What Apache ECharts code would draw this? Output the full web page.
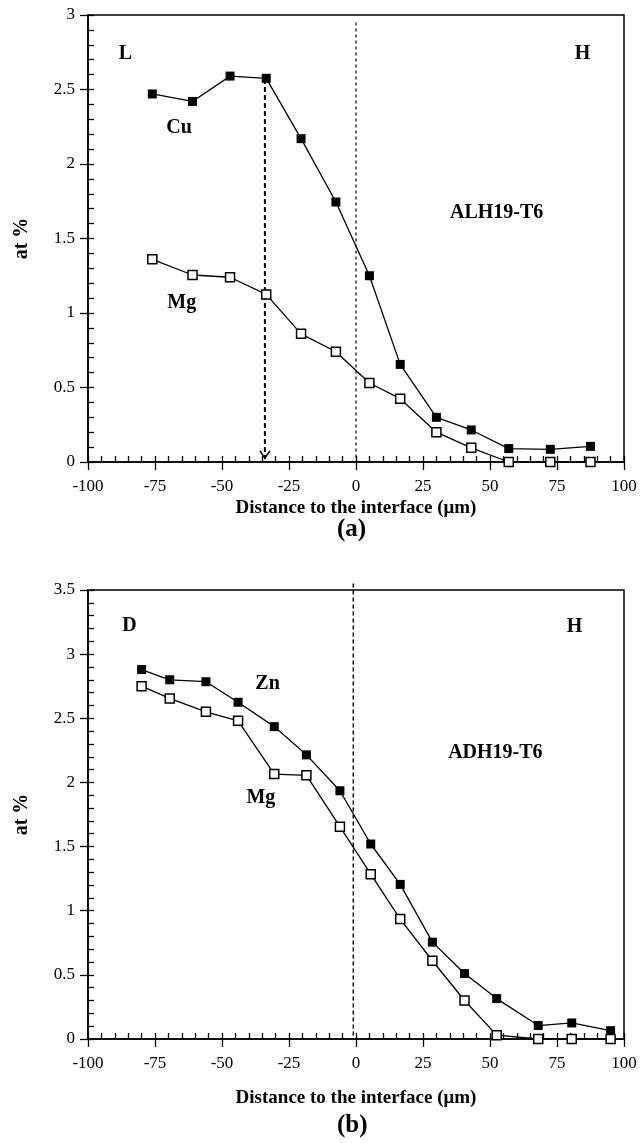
<!DOCTYPE html>
<html>
<head>
<meta charset="utf-8">
<script src="https://cdn.jsdelivr.net/npm/echarts@6/dist/echarts.min.js"></script>
<style>
  html, body { margin: 0; padding: 0; background: #fff; }
  #chart { width: 642px; height: 1143px; }
</style>
</head>
<body>
<div id="chart"></div>
<script>
// (a) ALH19-T6 profile
var topX = [-76, -61, -47, -33.5, -20.5, -7.5, 5, 16.5, 30, 43, 57, 72.5, 87.5];
var topCu = [2.47, 2.42, 2.59, 2.575, 2.17, 1.745, 1.25, 0.655, 0.30, 0.215, 0.09, 0.085, 0.105];
var topMg = [1.36, 1.255, 1.24, 1.125, 0.86, 0.74, 0.53, 0.425, 0.20, 0.095, 0, 0, 0];
var topArrowX = -34;
var topArrowFrom = 2.57;
var topInterfaceX = 0;
var topInterfaceTop = 2.95;
var topNotes = [
  ["L", -86, 2.74], ["H", 84.5, 2.74], ["Cu", -66, 2.24],
  ["Mg", -65, 1.07], ["ALH19-T6", 52.5, 1.67]
];

// (b) ADH19-T6 profile
var botX = [-80, -69.5, -56, -44, -30.5, -18.5, -6, 5.5, 16.5, 28.5, 40.5, 52.5, 68, 80.5, 95];
var botZn = [2.88, 2.80, 2.785, 2.625, 2.435, 2.215, 1.935, 1.52, 1.205, 0.755, 0.51, 0.315, 0.105, 0.125, 0.065];
var botMg = [2.75, 2.655, 2.55, 2.48, 2.065, 2.055, 1.655, 1.285, 0.935, 0.61, 0.30, 0.03, 0, 0, 0];
var botInterfaceX = -1;
var botInterfaceTop = 3.55;
var botNotes = [
  ["D", -84.5, 3.22], ["H", 81.5, 3.21], ["Zn", -33, 2.77],
  ["Mg", -35.5, 1.88], ["ADH19-T6", 52, 2.23]
];

var FONT = "Liberation Serif";

function zip(xs, ys) {
  return xs.map(function (x, i) { return [x, ys[i]]; });
}

function mainX(grid, nameGap) {
  return {
    gridIndex: grid, type: "value", position: "bottom", min: -100, max: 100, interval: 25,
    name: "Distance to the interface (\u03bcm)", nameLocation: "middle", nameGap: nameGap,
    nameTextStyle: { fontFamily: FONT, fontWeight: "bold", fontSize: 19, color: "#000" },
    axisLine: { onZero: false, lineStyle: { color: "#000", width: 1.5 } },
    axisTick: { inside: true, length: 6, lineStyle: { color: "#000", width: 1.3 } },
    minorTick: { show: true, splitNumber: 5, length: 6, lineStyle: { color: "#000", width: 1.3 } },
    axisLabel: { fontFamily: FONT, fontSize: 17, color: "#000", margin: 16 },
    splitLine: { show: false }
  };
}

function outerX(grid) {
  return {
    gridIndex: grid, type: "value", position: "bottom", min: -100, max: 100, interval: 25,
    axisLine: { show: false, onZero: false },
    axisTick: { inside: false, length: 8, lineStyle: { color: "#000", width: 1.3 } },
    axisLabel: { show: false }, splitLine: { show: false }
  };
}

function mainY(grid, max) {
  return {
    gridIndex: grid, type: "value", position: "left", min: 0, max: max, interval: 0.5,
    name: "at %", nameLocation: "middle", nameGap: 56,
    nameTextStyle: { fontFamily: FONT, fontWeight: "bold", fontSize: 20, color: "#000" },
    axisLine: { onZero: false, lineStyle: { color: "#000", width: 1.5 } },
    axisTick: { inside: true, length: 6, lineStyle: { color: "#000", width: 1.3 } },
    minorTick: { show: true, splitNumber: 5, length: 6, lineStyle: { color: "#000", width: 1.3 } },
    axisLabel: { fontFamily: FONT, fontSize: 17, color: "#000", margin: 13 },
    splitLine: { show: false }
  };
}

function outerY(grid, max) {
  return {
    gridIndex: grid, type: "value", position: "left", min: 0, max: max, interval: 0.5,
    axisLine: { show: false, onZero: false },
    axisTick: { inside: false, length: 8, lineStyle: { color: "#000", width: 1.3 } },
    axisLabel: { show: false }, splitLine: { show: false }
  };
}

function profile(axis, xs, ys, filled) {
  return {
    type: "line", xAxisIndex: axis, yAxisIndex: axis, data: zip(xs, ys),
    symbol: "rect", symbolSize: 9, z: 5,
    lineStyle: { color: "#000", width: 1.3 },
    itemStyle: { color: filled ? "#000" : "#fff", borderColor: "#000", borderWidth: filled ? 0 : 1.5 },
    emphasis: { disabled: true }, silent: true
  };
}

function notes(axis, list) {
  return {
    type: "scatter", xAxisIndex: axis, yAxisIndex: axis, symbolSize: 1, silent: true,
    itemStyle: { color: "#fff", opacity: 1 },
    data: list.map(function (n) { return { value: [n[1], n[2]], name: n[0] }; }),
    label: {
      show: true, position: "inside", formatter: "{b}", opacity: 1,
      fontFamily: FONT, fontWeight: "bold", fontSize: 20, color: "#000"
    }
  };
}

function vline(axis, x, top, dash, width) {
  return {
    type: "line", xAxisIndex: axis, yAxisIndex: axis, clip: false, silent: true,
    data: [[x, top], [x, 0]], symbol: "none",
    lineStyle: { color: "#000", width: width, type: dash }
  };
}

var chart = echarts.init(document.getElementById("chart"), null, { renderer: "canvas" });

chart.setOption({
  animation: false,
  backgroundColor: "#fff",
  grid: [
    { left: 88, top: 15, width: 536, height: 447, show: true, borderColor: "#000", borderWidth: 1.5 },
    { left: 88, top: 590, width: 536, height: 449, show: true, borderColor: "#000", borderWidth: 1.5 }
  ],
  xAxis: [mainX(0, 37), outerX(0), mainX(1, 50), outerX(1)],
  yAxis: [mainY(0, 3), outerY(0, 3), mainY(1, 3.5), outerY(1, 3.5)],
  graphic: [
    { type: "text", left: 337, top: 517, style: { text: "(a)", font: "bold 25px " + FONT, fill: "#000" } },
    { type: "text", left: 337, top: 1113, style: { text: "(b)", font: "bold 25px " + FONT, fill: "#000" } }
  ],
  series: [
    vline(0, topInterfaceX, topInterfaceTop, [3, 3], 1.2),
    {
      type: "line", xAxisIndex: 0, yAxisIndex: 0, silent: true, z: 4,
      data: [
        { value: [topArrowX, topArrowFrom], symbol: "none" },
        {
          value: [topArrowX, 0.02], symbol: "path://M0,0 L5,8 L10,0",
          symbolSize: [10, 9], symbolOffset: [0, -4.5], symbolKeepAspect: true
        }
      ],
      lineStyle: { color: "#000", width: 2, type: [5, 3] },
      itemStyle: { color: "transparent", borderColor: "#000", borderWidth: 1.5 }
    },
    profile(0, topX, topCu, true),
    profile(0, topX, topMg, false),
    notes(0, topNotes),

    vline(2, botInterfaceX, botInterfaceTop, [4, 3], 1.5),
    profile(2, botX, botZn, true),
    profile(2, botX, botMg, false),
    notes(2, botNotes)
  ]
});
</script>
</body>
</html>
